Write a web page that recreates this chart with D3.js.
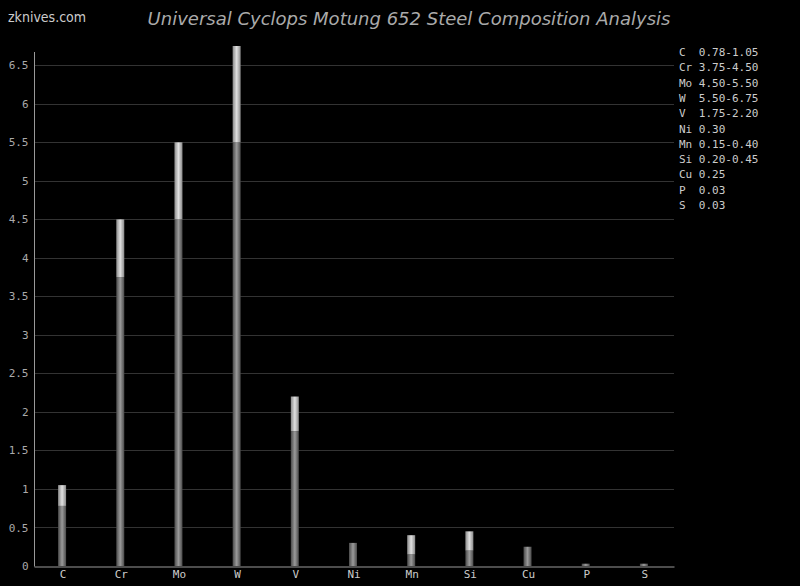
<!DOCTYPE html>
<html>
<head>
<meta charset="utf-8">
<script src="https://cdn.jsdelivr.net/npm/d3@7"></script>
<style>
  html, body { margin: 0; padding: 0; background: #000; }
  svg { display: block; }
</style>
</head>
<body>
<svg id="chart" width="800" height="586"></svg>
<script>
const elements = ["C", "Cr", "Mo", "W", "V", "Ni", "Mn", "Si", "Cu", "P", "S"];
const minValues = [0.78, 3.75, 4.50, 5.50, 1.75, 0.30, 0.15, 0.20, 0.25, 0.03, 0.03];
const maxValues = [1.05, 4.50, 5.50, 6.75, 2.20, 0.30, 0.40, 0.45, 0.25, 0.03, 0.03];
const legendLabels = ["0.78-1.05", "3.75-4.50", "4.50-5.50", "5.50-6.75", "1.75-2.20", "0.30", "0.15-0.40", "0.20-0.45", "0.25", "0.03", "0.03"];
const yTicks = [0, 0.5, 1, 1.5, 2, 2.5, 3, 3.5, 4, 4.5, 5, 5.5, 6, 6.5];

(function () {
const svg = d3.select("#chart");
const mLeft = 34, mRight = 674, mBottom = 566, mTop = 46, axisTop = 52;

const x = d3.scaleBand().domain(elements).range([mLeft, mRight]);
const y = d3.scaleLinear().domain([0, 6.75]).range([mBottom, mTop]);

const defs = svg.append("defs");
function grad(id, edge, center) {
  const g = defs.append("linearGradient").attr("id", id).attr("x1", "0%").attr("x2", "100%").attr("y1", "0%").attr("y2", "0%");
  g.append("stop").attr("offset", "0%").attr("stop-color", edge);
  g.append("stop").attr("offset", "50%").attr("stop-color", center);
  g.append("stop").attr("offset", "100%").attr("stop-color", edge);
}
grad("gLow", "#4a4a4a", "#9a9a9a");
grad("gHigh", "#8a8a8a", "#e0e0e0");

// gridlines
svg.append("g").selectAll("line").data(yTicks.filter(d => d > 0)).join("line")
  .attr("x1", mLeft).attr("x2", mRight)
  .attr("y1", d => Math.round(y(d)) + 0.5).attr("y2", d => Math.round(y(d)) + 0.5)
  .attr("stroke", "#333").attr("stroke-width", 1);

// y axis
const yAxis = d3.axisLeft(y).tickValues(yTicks).tickSize(0).tickPadding(6).tickFormat(d3.format("~g"));
const gy = svg.append("g").attr("transform", `translate(${mLeft + 0.5},0)`).call(yAxis);
gy.select(".domain").remove();
gy.selectAll("text").attr("fill", "#aaa").attr("font-family", "DejaVu Sans Mono").attr("font-size", 11);
svg.append("line").attr("x1", mLeft + 0.5).attr("x2", mLeft + 0.5).attr("y1", axisTop).attr("y2", mBottom + 0.5)
  .attr("stroke", "#999").attr("stroke-width", 1);

// x axis
const xAxis = d3.axisBottom(x).tickSize(0).tickPadding(4);
const gx = svg.append("g").attr("transform", `translate(0,${mBottom + 0.5})`).call(xAxis);
gx.select(".domain").attr("stroke", "#999");
gx.selectAll("text").attr("fill", "#ccc").attr("font-family", "DejaVu Sans Mono").attr("font-size", 11);

// bars
const bw = 8;
const data = elements.map((e, i) => ({ e, lo: minValues[i], hi: maxValues[i] }));
const bars = svg.append("g");
bars.selectAll("rect.lo").data(data).join("rect").attr("class", "lo")
  .attr("x", d => x(d.e) + x.bandwidth() / 2 - bw / 2 - 1)
  .attr("width", bw)
  .attr("y", d => y(d.lo))
  .attr("height", d => Math.max(2, y(0) - y(d.lo)))
  .attr("fill", "url(#gLow)");
bars.selectAll("rect.hi").data(data.filter(d => d.hi > d.lo)).join("rect").attr("class", "hi")
  .attr("x", d => x(d.e) + x.bandwidth() / 2 - bw / 2 - 1)
  .attr("width", bw)
  .attr("y", d => y(d.hi))
  .attr("height", d => y(d.lo) - y(d.hi))
  .attr("fill", "url(#gHigh)");

// title
svg.append("text").attr("x", 409).attr("y", 25).attr("text-anchor", "middle")
  .attr("font-family", "DejaVu Sans").attr("font-style", "italic").attr("font-size", 18)
  .attr("fill", "#aaa").text("Universal Cyclops Motung 652 Steel Composition Analysis");
svg.append("text").attr("x", 8).attr("y", 22)
  .attr("font-family", "DejaVu Sans Condensed, Liberation Sans Narrow").attr("font-size", 14)
  .attr("fill", "#ccc").text("zknives.com");

// legend
const leg = svg.append("g").attr("font-family", "DejaVu Sans Mono").attr("font-size", 11).attr("fill", "#ccc");
leg.selectAll("text").data(elements).join("text")
  .attr("x", 679).attr("y", (d, i) => 56 + i * 15.3)
  .attr("xml:space", "preserve")
  .style("white-space", "pre")
  .text((d, i) => d.padEnd(2, " ") + " " + legendLabels[i]);
})();
</script>
</body>
</html>
